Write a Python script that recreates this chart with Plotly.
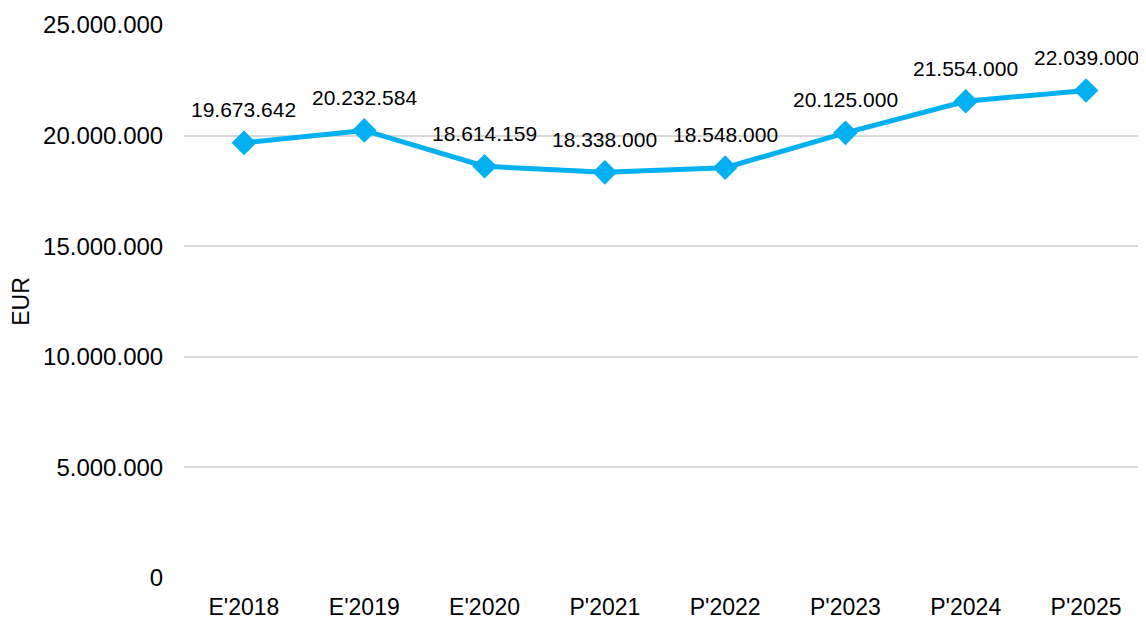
import plotly.graph_objects as go

years = ["E'2018", "E'2019", "E'2020", "P'2021", "P'2022", "P'2023", "P'2024", "P'2025"]
eur = [19673642, 20232584, 18614159, 18338000, 18548000, 20125000, 21554000, 22039000]

y_ticks = [0, 5000000, 10000000, 15000000, 20000000, 25000000]


def fmt(v):
    return f"{v:,}".replace(",", ".")


blue = "#00B0F0"

fig = go.Figure()
fig.add_trace(go.Scatter(
    x=years, y=eur, mode="lines+markers",
    line=dict(color=blue, width=5),
    marker=dict(symbol="diamond", size=19, color=blue),
    hoverinfo="skip",
))

# value labels above each point
for x, v in zip(years, eur):
    fig.add_annotation(x=x, y=v, text=fmt(v), showarrow=False, yshift=33,
                       font=dict(size=21, color="#000000"))

# page body adds an 8px margin, so the figure is sized to fit inside it
fig.update_layout(
    width=1138, height=611,
    margin=dict(l=176, r=0, t=17, b=41),
    plot_bgcolor="white", paper_bgcolor="white",
    font=dict(family="Liberation Sans, Arial, sans-serif", color="#000000", size=23),
    showlegend=False,
)
fig.update_xaxes(showgrid=False, showline=False, zeroline=False,
                 tickfont=dict(size=23), ticks="outside", ticklen=8, tickcolor="white")
fig.update_yaxes(range=[0, 25000000], tickvals=y_ticks, ticktext=[fmt(v) for v in y_ticks],
                 showgrid=True, gridcolor="#D9D9D9", gridwidth=2, zeroline=False,
                 showline=False, tickfont=dict(size=24),
                 ticks="outside", ticklen=15, tickcolor="white",
                 title=dict(text="EUR", font=dict(size=23), standoff=14))

fig.write_html("out.html")
